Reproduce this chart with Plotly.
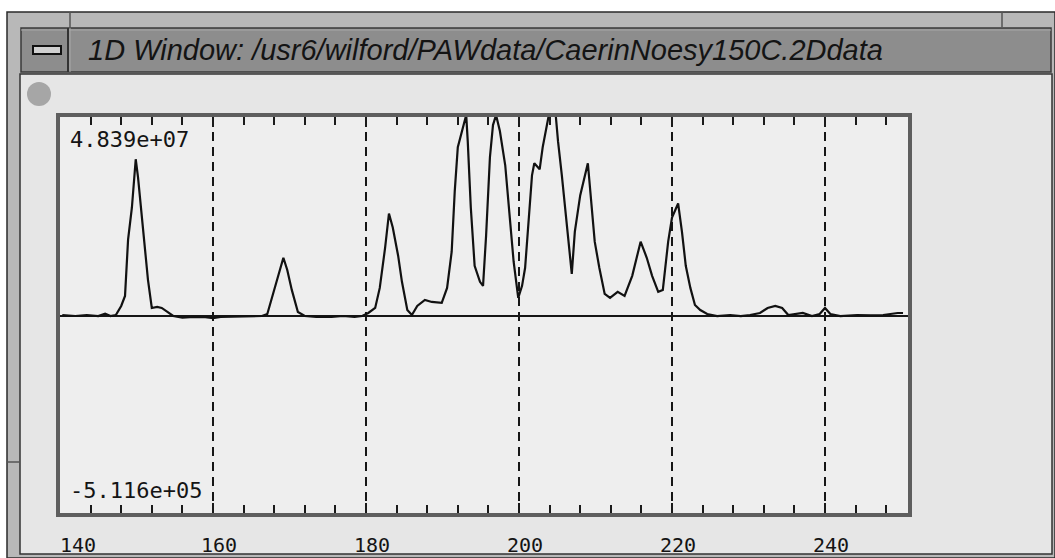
import plotly.graph_objects as go

# ---- data (chemical shift axis, intensity in units of 1e7) ----
shift = [140.3, 142.0, 143.5, 145.0, 145.9, 146.6, 147.3, 148.0, 148.5, 148.9, 149.4, 149.7,
         149.9, 150.2, 150.7, 151.1, 151.5, 152.0, 152.7, 153.3, 154.0, 154.8, 156.0, 157.5,
         159.0, 160.0, 161.0, 162.9, 165.0, 166.4, 167.1, 168.1, 168.8, 169.2, 169.7, 170.3,
         171.1, 172.0, 173.5, 175.5, 177.0, 178.5, 179.5, 180.3, 181.2, 181.8, 182.5, 183.0,
         183.5, 184.2, 184.7, 185.4, 186.0, 186.7, 187.7, 188.6, 189.9, 190.6, 191.2, 191.6,
         192.0, 192.5, 193.1, 193.3, 193.7, 194.2, 194.9, 195.3, 195.7, 196.2, 196.6, 197.0,
         197.5, 198.2, 198.8, 199.3, 199.9, 200.4, 200.8, 201.2, 201.7, 202.0, 202.7, 203.1,
         203.7, 203.9, 204.8, 205.1, 205.6, 206.0, 206.4, 206.9, 207.3, 208.0, 209.0, 209.4,
         209.9, 210.5, 211.2, 211.9, 212.9, 213.8, 214.8, 215.9, 216.7, 217.4, 218.2, 218.8,
         219.5, 220.0, 220.8, 221.3, 221.8, 222.4, 223.0, 223.7, 224.6, 225.9, 227.6, 229.0,
         230.2, 231.5, 232.5, 233.5, 234.4, 235.2, 236.3, 237.1, 238.3, 239.3, 240.0, 240.7,
         242.0, 244.2, 246.0, 247.6, 249.5, 250.2]
intensity_e7 = [0.024, 0.0, 0.024, 0.0, 0.058, 0.0, 0.024, 0.242, 0.484, 1.839, 2.613, 3.436,
                3.774, 3.339, 2.371, 1.500, 0.871, 0.194, 0.218, 0.194, 0.097, 0.0, -0.039, -0.019,
                -0.029, -0.0512, -0.024, -0.015, -0.019, 0.0, 0.048, 0.677, 1.161, 1.403, 1.113, 0.629,
                0.097, 0.0, -0.019, -0.024, 0.0, -0.024, 0.0, 0.073, 0.194, 0.677, 1.645, 2.468,
                2.129, 1.452, 0.823, 0.145, 0.024, 0.242, 0.387, 0.339, 0.315, 0.677, 1.548, 3.000,
                4.065, 4.452, 4.839, 4.210, 2.613, 1.210, 0.823, 0.726, 1.936, 3.823, 4.597, 4.839,
                4.452, 3.629, 2.371, 1.307, 0.436, 0.726, 1.161, 2.178, 3.387, 3.678, 3.532, 4.065,
                4.597, 4.839, 4.839, 4.210, 3.387, 2.613, 1.936, 1.016, 2.032, 2.903, 3.678, 2.758,
                1.790, 1.161, 0.532, 0.436, 0.581, 0.484, 0.968, 1.790, 1.403, 0.968, 0.581, 0.629,
                1.790, 2.371, 2.710, 2.032, 1.210, 0.677, 0.266, 0.145, 0.048, 0.0, 0.024, 0.0,
                0.024, 0.073, 0.194, 0.242, 0.194, 0.024, 0.048, 0.073, 0.0, 0.048, 0.194, 0.048,
                0.0, 0.024, 0.015, 0.024, 0.073, 0.073]

x_tick_vals = [140, 160, 180, 200, 220, 240]
x_tick_text = ["\u00a0\u00a0140", "160", "180", "200", "220", "240"]
y_max_label = "4.839e+07"
y_min_label = "-5.116e+05"
window_title = "1D Window: /usr6/wilford/PAWdata/CaerinNoesy150C.2Ddata"

# ---- geometry ----
FW, FH = 1055, 558
L, T, R, B = 60, 117, 908, 513
W, H = R - L, B - T


def px(x):
    return (x - L) / W


def py(y):
    return (B - y) / H


fig = go.Figure()
fig.add_trace(go.Scatter(x=shift, y=intensity_e7, mode="lines",
                         line=dict(color="#111111", width=2.2), hoverinfo="skip",
                         showlegend=False))

shapes = []


def rect(x0, y0, x1, y1, fill, line_color=None, lw=0):
    shapes.append(dict(type="rect", xref="paper", yref="paper",
                       x0=px(x0), x1=px(x1), y0=py(y1), y1=py(y0),
                       fillcolor=fill, layer="below",
                       line=dict(color=line_color or fill, width=lw)))


def seg(x0, y0, x1, y1, color, lw):
    shapes.append(dict(type="line", xref="paper", yref="paper",
                       x0=px(x0), x1=px(x1), y0=py(y0), y1=py(y1),
                       layer="below", line=dict(color=color, width=lw)))


# window frame
rect(7, 12, 1055, 558, "#b8b8b8", "#2a2a2a", 1.5)
# content area
rect(20, 74, 1052, 554, "#e6e6e6", "#333333", 1.5)
# title bar
rect(21, 28, 1051, 72, "#8d8d8d", "#3a3a3a", 1.5)
seg(21, 30, 1051, 30, "#a8a8a8", 1)
seg(68, 28, 68, 72, "#333333", 2)
seg(70, 28, 70, 72, "#aaaaaa", 1)
# minimize button
rect(33, 46, 61, 54, "#d0d0d0", "#111111", 2)
# resize-corner marks
seg(70, 12, 70, 27, "#555555", 1.5)
seg(1002, 12, 1002, 27, "#555555", 1.5)
seg(7, 462, 20, 462, "#555555", 1.5)
# grey circle
shapes.append(dict(type="circle", xref="paper", yref="paper",
                   x0=px(27), x1=px(51), y0=py(106), y1=py(82),
                   fillcolor="#a6a6a6", line=dict(color="#a6a6a6", width=0), layer="below"))
# plot interior
rect(L, T, R, B, "#eeeeee")

annotations = [
    dict(text="<i>" + window_title + "</i>", xref="paper", yref="paper",
         x=px(86), y=py(50), xanchor="left", yanchor="middle", showarrow=False,
         font=dict(family="Liberation Sans, Arial, sans-serif", size=29, color="#141414")),
    dict(text=y_max_label, xref="paper", yref="paper",
         x=px(68), y=py(139), xanchor="left", yanchor="middle", showarrow=False,
         font=dict(family="DejaVu Sans Mono, monospace", size=22, color="#141414")),
    dict(text=y_min_label, xref="paper", yref="paper",
         x=px(68), y=py(490), xanchor="left", yanchor="middle", showarrow=False,
         font=dict(family="DejaVu Sans Mono, monospace", size=22, color="#141414")),
]

fig.update_layout(
    width=FW, height=FH,
    margin=dict(l=L, r=FW - R, t=T, b=FH - B, pad=0, autoexpand=False),
    paper_bgcolor="#ffffff", plot_bgcolor="rgba(0,0,0,0)",
    shapes=shapes, annotations=annotations, showlegend=False,
    xaxis=dict(range=[140.0, 250.85], tickmode="array", tickvals=x_tick_vals,
               ticktext=x_tick_text, ticks="inside", ticklen=10, tickwidth=2,
               tickcolor="#1a1a1a", showline=True, linewidth=4, linecolor="#5e5e5e",
               mirror="ticks", showgrid=True, gridcolor="#161616", gridwidth=2,
               griddash="9px,6px", zeroline=False, ticklabelstandoff=11,
               ticklabelshift=6, automargin=False,
               tickfont=dict(family="DejaVu Sans Mono, monospace", size=20, color="#141414"),
               minor=dict(tick0=140, dtick=4, ticks="inside", ticklen=8, tickwidth=2,
                          tickcolor="#1a1a1a", showgrid=False)),
    yaxis=dict(range=[-4.742, 4.791], showticklabels=False, ticks="", showgrid=False,
               showline=True, linewidth=4, linecolor="#5e5e5e", mirror=True,
               zeroline=True, zerolinecolor="#161616", zerolinewidth=1.5,
               automargin=False),
)

fig.write_html("out.html")
